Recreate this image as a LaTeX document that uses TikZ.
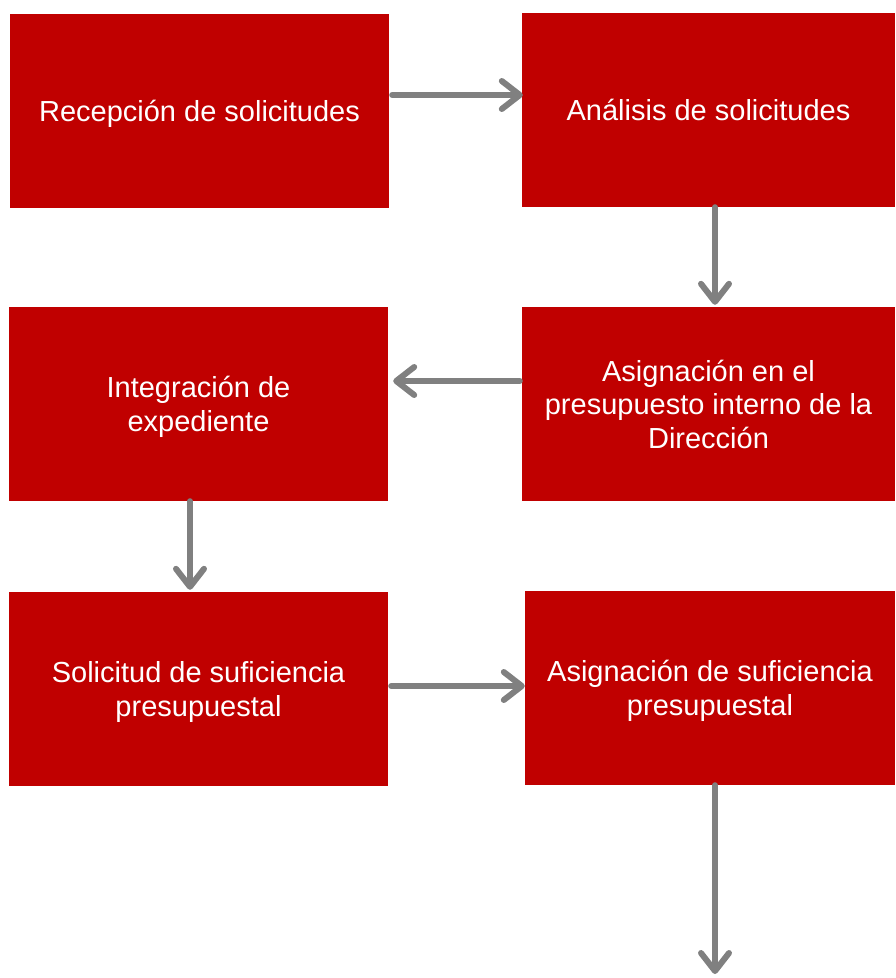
\documentclass[tikz,border=0pt]{standalone}
\usepackage{fontspec}
\setmainfont{Liberation Sans}
\usetikzlibrary{arrows.meta}
\definecolor{boxred}{RGB}{192,0,0}
\definecolor{arrowgray}{RGB}{128,128,128}
\begin{document}
\begin{tikzpicture}[x=1pt, y=-1pt,
    stepbox/.style={fill=boxred, text=white, align=center, inner sep=0pt,
      text depth=0pt, minimum height=194pt, font=\fontsize{29}{33.5}\selectfont},
    flow/.style={arrowgray, line width=6pt, line cap=round,
      -{Straight Barb[length=18pt, width=28pt, line cap=round, line join=round]}}]
    \useasboundingbox (0, 0) rectangle (895, 978);

    % First row
    \node [stepbox, minimum width=379pt] (rec) at (199.5, 111) {Recepción de solicitudes};
    \node [stepbox, minimum width=373pt] (ana) at (708.5, 110) {Análisis de solicitudes};

    % Second row
    \node [stepbox, minimum width=379pt] (integ) at (198.5, 404) {Integración de\\expediente};
    \node [stepbox, minimum width=373pt] (asig) at (708.5, 404)
          {Asignación en el\\presupuesto interno de la\\Dirección};

    % Third row
    \node [stepbox, minimum width=379pt] (sol) at (198.5, 689) {Solicitud de suficiencia\\presupuestal};
    \node [stepbox, minimum width=370pt] (asuf) at (710, 688) {Asignación de suficiencia\\presupuestal};
    \coordinate (fin) at (715, 974);

    % Connections
    \draw [flow] ([xshift=3pt, yshift=16pt]rec.east) -- ([xshift=1pt, yshift=15pt]ana.west);
    \draw [flow] ([xshift=6.5pt]ana.south) -- ([xshift=6.5pt, yshift=2pt]asig.north);
    \draw [flow] ([xshift=-2pt, yshift=23pt]asig.west) -- ([xshift=5pt, yshift=23pt]integ.east);
    \draw [flow] ([xshift=-8.5pt]integ.south) -- ([xshift=-8.5pt, yshift=2pt]sol.north);
    \draw [flow] ([xshift=3pt, yshift=3pt]sol.east) -- ([yshift=2pt]asuf.west);
    \draw [flow] ([xshift=5pt]asuf.south) -- (fin);
\end{tikzpicture}
\end{document}
